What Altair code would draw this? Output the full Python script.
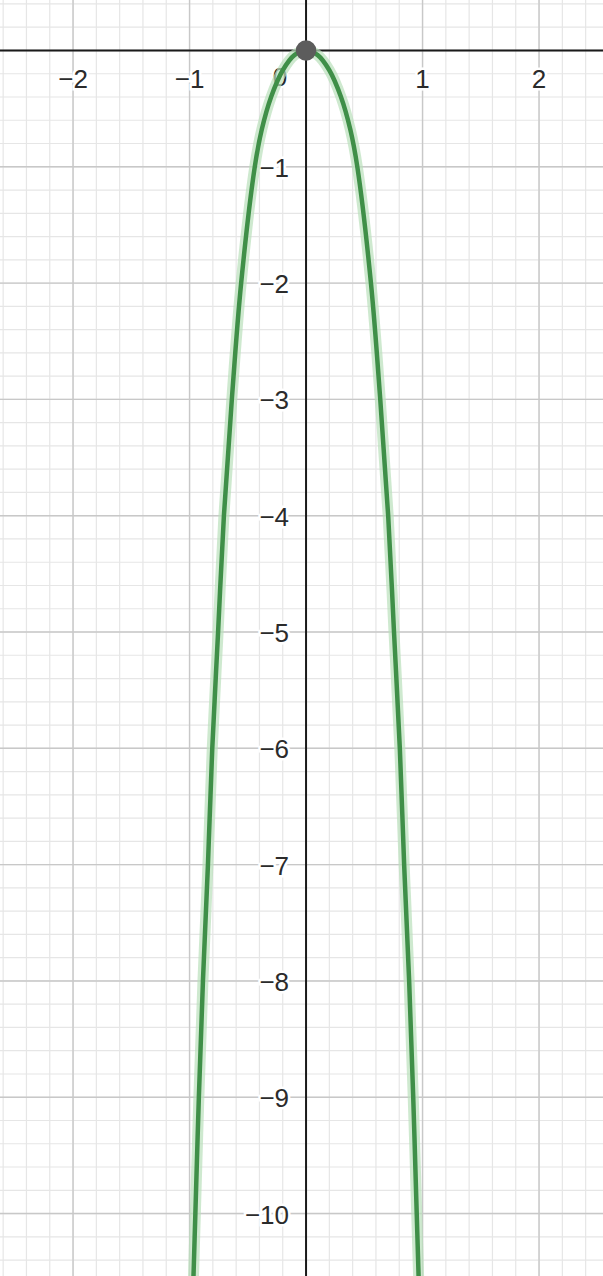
import altair as alt
import pandas as pd

# Curve samples read along each branch (x, y)
curve_x = [-0.968, -0.95, -0.92, -0.885, -0.842, -0.805, -0.755, -0.705, -0.637, -0.557,
           -0.44, -0.38, -0.30, -0.20, -0.10, 0.0,
           0.10, 0.20, 0.30, 0.38, 0.44, 0.557, 0.637, 0.705, 0.755, 0.805, 0.842, 0.885,
           0.92, 0.95, 0.968]
curve_y = [-10.6, -10.0, -9.0, -8.0, -7.0, -6.0, -5.0, -4.0, -3.0, -2.0,
           -1.0, -0.68, -0.40, -0.17, -0.04, 0.0,
           -0.04, -0.17, -0.40, -0.68, -1.0, -2.0, -3.0, -4.0, -5.0, -6.0, -7.0, -8.0,
           -9.0, -10.0, -10.6]

# Highlighted point
point_x = [0.0]
point_y = [0.0]

# Axis labels
x_ticks = [-2, -1, 1, 2]
x_labels = ["−2", "−1", "1", "2"]
y_ticks = [-1, -2, -3, -4, -5, -6, -7, -8, -9, -10]
y_labels = ["−1", "−2", "−3", "−4", "−5", "−6", "−7", "−8", "−9", "−10"]

X_DOMAIN = [-2.627, 2.549]
Y_DOMAIN = [-10.537, 0.434]
W, H = 603, 1276

xs = alt.Scale(domain=X_DOMAIN, nice=False, zero=False)
ys = alt.Scale(domain=Y_DOMAIN, nice=False, zero=False)

# Grid lines: minor every 0.2, major every 1
minor_vx = [round(-2.6 + 0.2 * i, 1) for i in range(26)]
minor_hy = [round(0.4 - 0.2 * i, 1) for i in range(55)]
major_vx = [-2, -1, 1, 2]
major_hy = list(range(-10, 1))

minor_v = alt.Chart(pd.DataFrame({"x": minor_vx})).mark_rule(
    color="#e6e6e6", strokeWidth=1.2).encode(x=alt.X("x:Q", scale=xs, axis=None))
minor_h = alt.Chart(pd.DataFrame({"y": minor_hy})).mark_rule(
    color="#e6e6e6", strokeWidth=1.2).encode(y=alt.Y("y:Q", scale=ys, axis=None))
major_v = alt.Chart(pd.DataFrame({"x": major_vx})).mark_rule(
    color="#c8c8c8", strokeWidth=1.4).encode(x=alt.X("x:Q", scale=xs, axis=None))
major_h = alt.Chart(pd.DataFrame({"y": major_hy})).mark_rule(
    color="#c8c8c8", strokeWidth=1.4).encode(y=alt.Y("y:Q", scale=ys, axis=None))

# Coordinate axes through the origin
axis_v = alt.Chart(pd.DataFrame({"x": [0]})).mark_rule(
    color="#1a1a1a", strokeWidth=2).encode(x=alt.X("x:Q", scale=xs, axis=None))
axis_h = alt.Chart(pd.DataFrame({"y": [0]})).mark_rule(
    color="#1a1a1a", strokeWidth=2).encode(y=alt.Y("y:Q", scale=ys, axis=None))

curve_df = pd.DataFrame({"x": curve_x, "y": curve_y, "i": list(range(len(curve_x)))})
curve_enc = dict(
    x=alt.X("x:Q", scale=xs, axis=None),
    y=alt.Y("y:Q", scale=ys, axis=None),
    order=alt.Order("i:Q"),
)
halo = alt.Chart(curve_df).mark_line(
    color="#b9dfbb", strokeWidth=11, opacity=0.7, interpolate="catmull-rom",
    clip=True, strokeCap="round").encode(**curve_enc)
curve = alt.Chart(curve_df).mark_line(
    color="#3f8f48", strokeWidth=4.5, interpolate="catmull-rom",
    clip=True, strokeCap="round").encode(**curve_enc)

dot = alt.Chart(pd.DataFrame({"x": point_x, "y": point_y})).mark_point(
    filled=True, color="#5c5c5c", size=420, opacity=1).encode(
    x=alt.X("x:Q", scale=xs, axis=None), y=alt.Y("y:Q", scale=ys, axis=None))

FONT = "Liberation Sans"
FS = 26

def labels(df, **kw):
    base_kw = dict(font=FONT, fontSize=FS, baseline="middle", **kw)
    enc = dict(x=alt.X("x:Q", scale=xs, axis=None),
               y=alt.Y("y:Q", scale=ys, axis=None),
               text="t:N")
    back = alt.Chart(df).mark_text(color="white", stroke="white", strokeWidth=5,
                                   **base_kw).encode(**enc)
    front = alt.Chart(df).mark_text(color="#2b2b2b", **base_kw).encode(**enc)
    return back + front

x_lab = labels(pd.DataFrame({"x": x_ticks, "y": [0] * len(x_ticks), "t": x_labels}),
               align="center", dy=30)
y_lab = labels(pd.DataFrame({"x": [0] * len(y_ticks), "y": y_ticks, "t": y_labels}),
               align="right", dx=-17, dy=2)
o_lab = labels(pd.DataFrame({"x": [0], "y": [0], "t": ["0"]}),
               align="center", dx=-26, dy=28)

chart = alt.layer(
    minor_v, minor_h, major_v, major_h, x_lab, y_lab, o_lab,
    axis_v, axis_h, halo, curve, dot,
).properties(
    width=W, height=H, padding=0, autosize=alt.AutoSizeParams(type="none"),
    background="white",
).configure_view(stroke=None)

chart.save("out.html", embed_options={"renderer": "svg", "actions": False})
